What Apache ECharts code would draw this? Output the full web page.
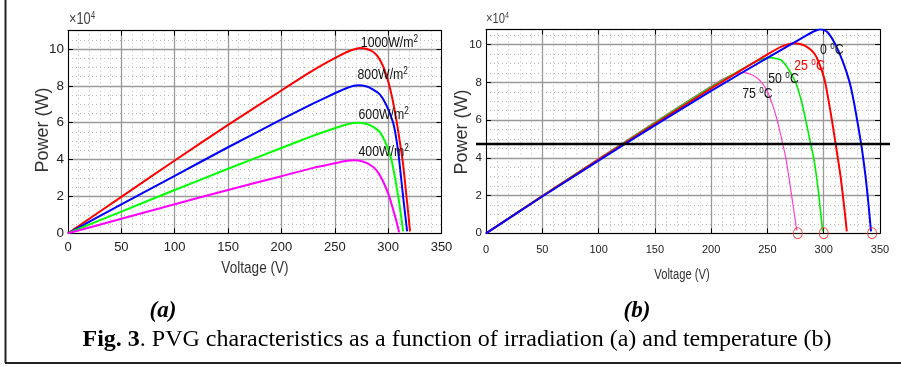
<!DOCTYPE html>
<html><head><meta charset="utf-8">
<script src="https://cdn.jsdelivr.net/npm/echarts@6/dist/echarts.min.js"></script>
<style>html,body{margin:0;padding:0;background:#fff}#c{width:901px;height:367px}</style>
</head><body><div id="c"></div>
<script>
// ---- Data (power in units of 10^4 W, voltage in V) ----
const xTicks = [0, 50, 100, 150, 200, 250, 300, 350];
const yTicks = [0, 2, 4, 6, 8, 10];

// (a) irradiation curves
const irrNames = ['1000W/m', '800W/m', '600W/m', '400W/m'];
const irr1000 = [[0,0],[50,1.98],[100,3.95],[150,5.88],[200,7.75],[230,8.85],[250,9.5],[262,9.85],[274,10.05],[280,10.0],[285,9.88],[290,9.62],[295,9.1],[300,8.25],[304,7.3],[308,6.05],[311,4.95],[314,3.75],[317,2.1],[319,1.0],[320.5,0.1]];
const irr800 = [[0,0],[50,1.57],[100,3.12],[150,4.67],[200,6.18],[230,7.05],[250,7.6],[262,7.9],[272,8.03],[280,7.97],[286,7.8],[292,7.55],[298,7.0],[304.7,6.0],[308,5.0],[310.3,4.0],[314,2.0],[317.8,0.1]];
const irr600 = [[0,0],[50,1.18],[100,2.35],[150,3.5],[200,4.63],[230,5.3],[250,5.7],[262,5.92],[271,6.0],[280,5.93],[286,5.78],[292,5.5],[298,4.85],[303.2,3.97],[306.5,3.0],[309.4,2.0],[312,1.0],[314,0.1]];
const irr400 = [[0,0],[50,0.79],[100,1.58],[150,2.35],[200,3.1],[230,3.55],[250,3.8],[260,3.92],[268,3.97],[276,3.9],[283,3.72],[289,3.43],[295,2.85],[301,2.0],[305.7,1.08],[308,0.6],[310.3,0.05]];
const irrLabelPos = [[274.4,10.33],[271.3,8.59],[272.2,6.42],[272.2,4.43]];

// (b) temperature curves
const tempNames = ['0 ', '25 ', '50 ', '75 '];
const t0 = [[0,0],[50,1.95],[100,3.85],[150,5.72],[200,7.55],[250,9.3],[270,9.98],[285,10.5],[292,10.72],[297,10.81],[303,10.68],[310,10.05],[317,9.1],[323,8.0],[327,6.9],[331,5.55],[334,4.45],[337,3.1],[339.5,1.7],[342,0.1]];
const t25 = [[0,0],[50,1.97],[100,3.9],[150,5.8],[200,7.68],[250,9.48],[262,9.88],[274,10.07],[282,9.98],[288,9.75],[292,9.5],[295,9.15],[299,8.5],[302,7.8],[306,6.45],[309,5.35],[312,4.2],[315,3.0],[318,1.5],[320.5,0.1]];
const t50 = [[0,0],[50,1.98],[100,3.93],[150,5.86],[200,7.75],[235,8.95],[245,9.22],[253,9.31],[262,9.18],[267,8.85],[272,8.35],[276,7.85],[280,7.05],[283.5,6.15],[287.5,5.0],[291.5,3.85],[295.3,2.2],[299,0.1]];
const t75 = [[0,0],[50,1.99],[100,3.96],[150,5.9],[200,7.8],[215,8.3],[228.5,8.53],[238,8.35],[244,8.05],[249.3,7.6],[254,6.9],[258.7,6.0],[262.6,5.0],[266.4,3.97],[269,3.0],[271.5,2.0],[274,1.0],[276,0.15]];
const tempLabelPos = [[296.6,9.71],[273.8,8.88],[250.7,8.18],[227.6,7.38]];
const vocMarks = [[277,0],[300,0],[343,0]];
const blackLineLevel = 4.73;

// ---- styling ----
const SANS = '"Liberation Sans",Arial,sans-serif';
const SERIF = '"Liberation Serif","Times New Roman",serif';
const MAJ = {color:'#9a9a9a', width:1.3};
const MIN = {color:'#b8b8b8', width:1, type:[1,3]};

const grids = [
  {left:68, top:30.6, width:373.5, height:202.7, ymax:11, lab:13, ylab:13.5, xmargin:8},
  {left:486, top:29.5, width:394, height:203.8, ymax:10.8, lab:11, ylab:11.5, xmargin:11}
];

const xAxis = [], yAxis = [];
grids.forEach((g, gi) => {
  xAxis.push({gridIndex:gi, type:'value', min:0, max:350, interval:10, position:'bottom',
    axisLine:{show:false}, axisTick:{show:false}, axisLabel:{show:false}, splitLine:{show:true, lineStyle:MIN}});
  xAxis.push({gridIndex:gi, type:'value', min:0, max:350, interval:50, position:'bottom',
    axisLine:{show:true, onZero:false, lineStyle:{color:'#000', width:1}},
    axisTick:{show:true, inside:true, length:5, lineStyle:{color:'#000'}},
    axisLabel:{show:true, color:'#222', fontFamily:SANS, fontSize:g.lab, margin:g.xmargin,
      formatter: v => xTicks.includes(v) ? String(v) : ''},
    splitLine:{show:true, lineStyle:MAJ}});
  xAxis.push({gridIndex:gi, type:'value', min:0, max:350, interval:50, position:'top',
    axisLine:{show:true, onZero:false, lineStyle:{color:'#000', width:1}},
    axisTick:{show:true, inside:true, length:5, lineStyle:{color:'#000'}},
    axisLabel:{show:false}, splitLine:{show:false}});
  yAxis.push({gridIndex:gi, type:'value', min:0, max:g.ymax, interval:0.5, position:'left',
    axisLine:{show:false}, axisTick:{show:false}, axisLabel:{show:false}, splitLine:{show:true, lineStyle:MIN}});
  yAxis.push({gridIndex:gi, type:'value', min:0, max:g.ymax, interval:2, position:'left',
    axisLine:{show:true, onZero:false, lineStyle:{color:'#000', width:1}},
    axisTick:{show:true, inside:true, length:5, lineStyle:{color:'#000'}},
    axisLabel:{show:true, color:'#222', fontFamily:SANS, fontSize:g.ylab, margin:4,
      formatter: v => yTicks.includes(v) ? String(v) : ''},
    splitLine:{show:true, lineStyle:MAJ}});
  yAxis.push({gridIndex:gi, type:'value', min:0, max:g.ymax, interval:2, position:'right',
    axisLine:{show:true, onZero:false, lineStyle:{color:'#000', width:1}},
    axisTick:{show:true, inside:true, length:5, lineStyle:{color:'#000'}},
    axisLabel:{show:false}, splitLine:{show:false}});
});

function curve(data, color, width, gi) {
  return {type:'line', xAxisIndex:gi*3+1, yAxisIndex:gi*3+1, data:data, showSymbol:false,
    smooth:0.2, lineStyle:{color:color, width:width}, silent:true, z:5};
}

const series = [
  curve(irr1000, '#ff0000', 2, 0),
  curve(irr800, '#0000ff', 2, 0),
  curve(irr600, '#00ff00', 2, 0),
  curve(irr400, '#ff00ff', 2, 0),
  curve(t75, '#ff3fcf', 1.2, 1),
  curve(t50, '#00ee00', 1.6, 1),
  curve(t25, '#ff0000', 2, 1),
  curve(t0, '#0000ff', 2, 1),
  {type:'scatter', xAxisIndex:4, yAxisIndex:4, data:vocMarks, symbol:'circle', symbolSize:[9,11], silent:true, z:7,
    itemStyle:{color:'rgba(0,0,0,0)', borderColor:'#ff2020', borderWidth:1}}
];

function supText(x, y, main, sup, size, color, sx, after) {
  const lh = Math.round(size * 1.15);
  const rich = {m:{fontFamily:SANS, fontSize:size, fill:color, lineHeight:lh},
                s:{fontFamily:SANS, fontSize:Math.round(size*0.65), fill:color, verticalAlign:'top', lineHeight:lh}};
  return {type:'text', x:x, y:y, scaleX:sx, z:20, silent:true,
    style:{text:'{m|' + main + '}{s|' + sup + '}' + (after ? '{m|' + after + '}' : ''), font:size + 'px ' + SANS,
      fill:color, textAlign:'left', textVerticalAlign:'middle', rich:rich}};
}

const graphic = [
  {type:'line', shape:{x1:5.5, y1:0, x2:5.5, y2:363}, style:{stroke:'#222', lineWidth:2}, silent:true},
  {type:'line', shape:{x1:5, y1:363, x2:901, y2:363}, style:{stroke:'#222', lineWidth:2}, silent:true},
  {type:'line', shape:{x1:476, y1:144, x2:890, y2:144}, style:{stroke:'#000', lineWidth:2.7}, silent:true, z:10},
  {type:'text', x:43, y:130, rotation:Math.PI/2, style:{text:'Power (W)', font:'18px '+SANS, fill:'#333', textAlign:'center', textVerticalAlign:'middle'}},
  {type:'text', x:462, y:132, rotation:Math.PI/2, style:{text:'Power (W)', font:'18px '+SANS, fill:'#333', textAlign:'center', textVerticalAlign:'middle'}},
  {type:'text', x:255, y:268, scaleX:0.8, style:{text:'Voltage (V)', font:'17px '+SANS, fill:'#333', textAlign:'center', textVerticalAlign:'middle'}},
  {type:'text', x:682, y:275, scaleX:0.8, style:{text:'Voltage (V)', font:'14px '+SANS, fill:'#333', textAlign:'center', textVerticalAlign:'middle'}},
  supText(69, 20, '×10', '4', 16, '#444', 0.8),
  supText(486, 19, '×10', '4', 14, '#444', 0.8),
  {type:'text', x:163, y:311, style:{text:'(a)', font:'italic bold 23px '+SERIF, fill:'#000', textAlign:'center', textVerticalAlign:'middle'}},
  {type:'text', x:637, y:311, style:{text:'(b)', font:'italic bold 23px '+SERIF, fill:'#000', textAlign:'center', textVerticalAlign:'middle'}},
  {type:'text', x:457, y:340, style:{text:'{b|Fig. 3}. PVG characteristics as a function of irradiation (a) and temperature (b)',
    font:'24px '+SERIF, fill:'#000', textAlign:'center', textVerticalAlign:'middle',
    rich:{b:{fontFamily:SERIF, fontSize:24, fontWeight:'bold', fill:'#000'}}}}
];

const chart = echarts.init(document.getElementById('c'), null, {renderer:'canvas'});
chart.setOption({
  animation:false,
  backgroundColor:'#fff',
  grid: grids.map(g => ({left:g.left, top:g.top, width:g.width, height:g.height, containLabel:false})),
  xAxis:xAxis, yAxis:yAxis, series:series, graphic:graphic
});

// curve annotations placed through the chart's own scales
const labels = [];
irrNames.forEach((n, i) => {
  const p = chart.convertToPixel({seriesIndex:0}, irrLabelPos[i]);
  labels.push(supText(p[0], p[1], n, '2', 15, '#111', 0.82));
});
const tempColors = ['#111', '#ff0000', '#111', '#111'];
tempNames.forEach((n, i) => {
  const p = chart.convertToPixel({seriesIndex:4}, tempLabelPos[i]);
  labels.push(supText(p[0], p[1], n, 'o', 15, tempColors[i], 0.82, 'C'));
});
chart.setOption({graphic: graphic.concat(labels)});
</script></body></html>
